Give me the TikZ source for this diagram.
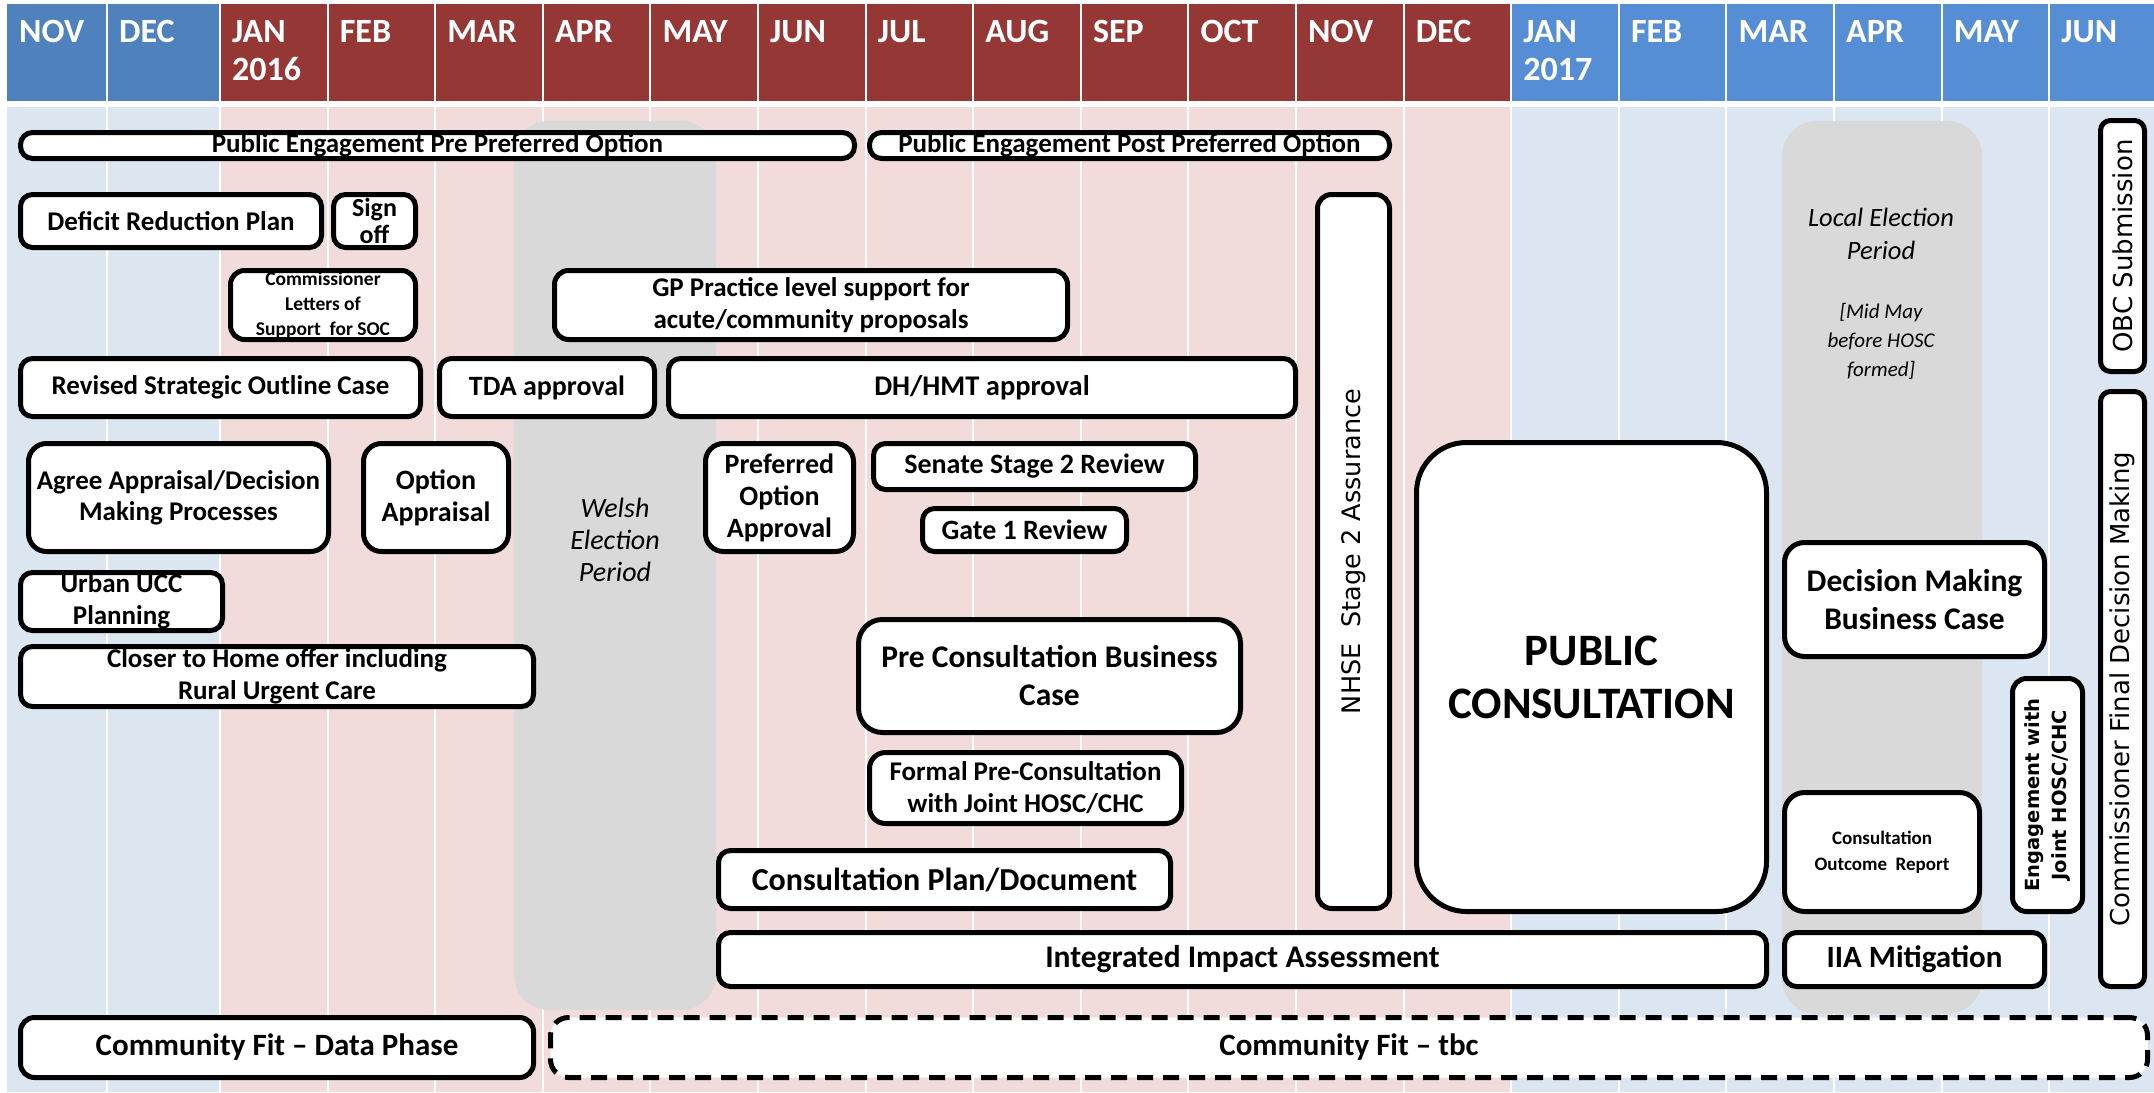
\documentclass[tikz,border=0pt]{standalone}
\usepackage{fontspec}
\setmainfont{Carlito}
\newfontfamily\vfont{DejaVu Sans}
\definecolor{hdrA}{HTML}{4F81BD}
\definecolor{hdrB}{HTML}{953735}
\definecolor{hdrC}{HTML}{558ED5}
\definecolor{bgA}{HTML}{DCE6F1}
\definecolor{bgB}{HTML}{F2DCDB}
\definecolor{bgC}{HTML}{DCE6F2}
\definecolor{gband}{HTML}{D9D9D9}
\newcommand\fs[2]{\fontsize{#1}{#2}\selectfont}
% [opts]{name}{x1}{y1}{x2}{y2}{text}
\newcommand\tb[7][]{%
  \node[tbox,#1,minimum width={#5-#3-5},minimum height={#6-#4-5}] (#2) at ({(#3+#5)/2},{(#4+#6)/2}) {#7};}
\newcommand\rtb[7][]{%
  \node[tbox,rotate=90,#1,minimum width={#6-#4-5},minimum height={#5-#3-5}] (#2) at ({(#3+#5)/2},{(#4+#6)/2}) {#7};}
\tikzset{
  tbox/.style={draw=black,fill=white,line width=5pt,rounded corners=12pt,inner sep=0pt,align=center,font=\bfseries\fs{27}{31}},
  month/.style={anchor=north west,inner sep=0pt,align=left,text=white,font=\bfseries\fs{34}{38}},
  itx/.style={inner sep=0pt,align=center,font=\itshape\fs{28}{32}},
  sep/.style={white,line width=2pt},
}
\begin{document}
\begin{tikzpicture}[x=1pt,y=-1pt]
\useasboundingbox (0,0) rectangle (2154,1092);
\fill[white] (0,0) rectangle (2154,1092);
% header
\fill[hdrA] (7,4) rectangle (220,101);
\fill[hdrB] (220,4) rectangle (1511.2,101);
\fill[hdrC] (1511.2,4) rectangle (2154,101);
% body
\fill[bgA] (7,107) rectangle (220,1092);
\fill[bgB] (220,107) rectangle (1511.2,1092);
\fill[bgC] (1511.2,107) rectangle (2154,1092);
% month separators
\draw[sep] (107,4) -- (107,1092);
\foreach \k in {0,...,17} {\draw[sep] ({220+107.6*\k},4) -- ({220+107.6*\k},1092);}
% month labels
\node[month] (mnov) at (19,20) {NOV};
\node[month] (mdec) at (119,20) {DEC};
\node[month] (mjan) at (232,20) {JAN\\2016};
\foreach \m [count=\k] in {FEB,MAR,APR,MAY,JUN,JUL,AUG,SEP,OCT,NOV,DEC,{JAN\\2017},FEB,MAR,APR,MAY,JUN}
  {\node[month] (mo\k) at ({220+107.6*\k+12},20) {\m};}
% election periods
\fill[gband,rounded corners=35pt] (514,121) rectangle (716,1010);
\fill[gband,rounded corners=35pt] (1782,121) rectangle (1982,1014);
\node[itx] (welsh) at (615,540) {Welsh\\Election\\Period};
\node[itx,font=\itshape\fs{26.5}{33}] (local) at (1881,234) {Local Election\\Period};
\node[itx,font=\itshape\fs{21}{29}] (midmay) at (1881,341) {[Mid May\\before HOSC\\formed]};
% boxes
\tb{peA}{18}{130}{857}{161}{Public Engagement Pre Preferred Option}
\tb{peB}{867}{130}{1392}{161}{Public Engagement Post Preferred Option}
\tb{drp}{18}{192}{324}{250}{Deficit Reduction Plan}
\tb[font=\bfseries\fs{26}{27}]{sign}{331}{192}{418}{250}{Sign\\off}
\tb[font=\bfseries\fs{19.5}{25},rounded corners=14pt]{cls}{228}{268}{418}{342}{Commissioner\\Letters of\\Support\ \ for SOC}
\tb[font=\bfseries\fs{27}{32},rounded corners=14pt]{gp}{552}{268}{1070}{342}{GP Practice level support for\\acute/community proposals}
\tb{rsoc}{18}{356}{423}{419}{Revised Strategic Outline Case}
\tb[font=\bfseries\fs{28}{31}]{tda}{437}{356}{657}{419}{TDA approval}
\tb[font=\bfseries\fs{28.5}{31}]{dh}{666}{356}{1298}{419}{DH/HMT approval}
\tb[rounded corners=18pt]{agree}{26}{441}{331}{554}{Agree Appraisal/Decision\\Making Processes}
\tb[font=\bfseries\fs{28}{32},rounded corners=18pt]{opt}{361}{441}{511}{554}{Option\\Appraisal}
\tb[font=\bfseries\fs{28}{32},rounded corners=18pt]{poa}{703}{441}{856}{554}{Preferred\\Option\\Approval}
\tb[font=\bfseries\fs{28}{31}]{senate}{871}{441}{1198}{492}{Senate Stage 2 Review}
\tb[font=\bfseries\fs{28}{31}]{gate}{920}{506}{1129}{554}{Gate 1 Review}
\tb[font=\bfseries\fs{27}{32}]{urban}{18}{570}{225}{633}{Urban UCC\\Planning}
\tb[font=\bfseries\fs{27}{32}]{closer}{18}{644}{536}{709}{Closer to Home offer including\\Rural Urgent Care}
\tb[font=\bfseries\fs{31.5}{38},rounded corners=24pt]{pcbc}{856}{617}{1243}{735}{Pre Consultation Business\\Case}
\tb[font=\bfseries\fs{27}{32},rounded corners=16pt]{fpc}{867}{750}{1184}{826}{Formal Pre-Consultation\\with Joint HOSC/CHC}
\tb[font=\bfseries\fs{32}{36}]{cpd}{716}{848}{1173}{911}{Consultation Plan/Document}
\tb[font=\bfseries\fs{31.5}{36}]{iia}{716}{930}{1769}{989}{Integrated Impact Assessment}
\rtb[font=\vfont\fs{25.5}{30},rounded corners=14pt]{nhse}{1315}{192}{1392}{911}{NHSE\ \ Stage 2 Assurance}
\tb[font=\bfseries\fs{45}{53},rounded corners=50pt]{pc}{1414}{440}{1769}{914}{PUBLIC\\CONSULTATION}
\rtb[font=\vfont\fs{26}{30},rounded corners=10pt]{obc}{2098}{118}{2147}{374}{OBC Submission}
\rtb[font=\vfont\fs{26}{30},rounded corners=10pt]{cfdm}{2098}{389}{2147}{989}{Commissioner Final Decision Making}
\tb[font=\bfseries\fs{31.5}{38},rounded corners=20pt]{dmbc}{1782}{540}{2047}{659}{Decision Making\\Business Case}
\rtb[font=\vfont\bfseries\fs{19.5}{27},rounded corners=14pt]{eng}{2010}{676}{2085}{914}{Engagement with\\Joint HOSC/CHC}
\tb[font=\bfseries\fs{19}{26},rounded corners=20pt]{cor}{1782}{790}{1982}{914}{Consultation\\Outcome\ \ Report}
\tb[font=\bfseries\fs{31}{36}]{iiam}{1782}{930}{2047}{989}{IIA Mitigation}
\tb[font=\bfseries\fs{31}{36},rounded corners=14pt]{cfd}{18}{1015}{536}{1080}{Community Fit -- Data Phase}
\tb[font=\bfseries\fs{31}{36},rounded corners=18pt,dash pattern=on 16pt off 10pt]{cft}{548}{1015}{2150}{1080}{Community Fit -- tbc}
\end{tikzpicture}
\end{document}
